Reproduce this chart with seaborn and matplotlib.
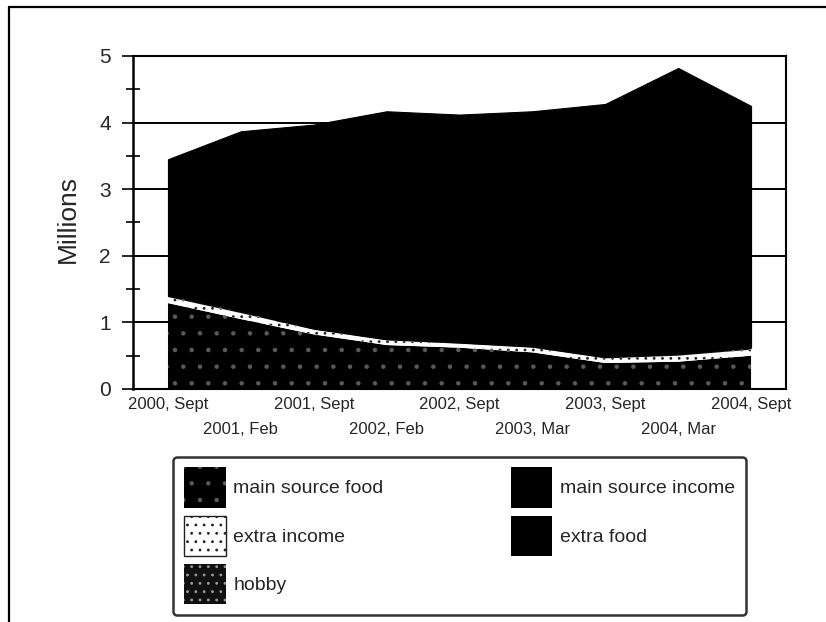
import numpy as np
import pandas as pd
import matplotlib
matplotlib.use('Agg')
import matplotlib.pyplot as plt
from matplotlib.patches import Patch
from matplotlib.lines import Line2D
import seaborn as sns


# Survey rounds (x axis) and the five stacked sources, in millions
periods = ['2000, Sept', '2001, Feb', '2001, Sept', '2002, Feb', '2002, Sept',
           '2003, Mar', '2003, Sept', '2004, Mar', '2004, Sept']
main_source_food = [1.29, 1.05, 0.82, 0.66, 0.62, 0.55, 0.39, 0.41, 0.50]
extra_income = [0.09, 0.09, 0.07, 0.07, 0.06, 0.07, 0.07, 0.09, 0.09]
hobby = [0.03, 0.03, 0.02, 0.02, 0.02, 0.02, 0.02, 0.03, 0.03]
main_source_income = [1.79, 2.42, 2.76, 3.12, 3.12, 3.23, 3.50, 3.94, 3.33]
extra_food = [0.25, 0.28, 0.30, 0.30, 0.30, 0.30, 0.30, 0.35, 0.30]

series = ['main source food', 'extra income', 'hobby',
          'main source income', 'extra food']
df = pd.DataFrame({'period': periods,
                   'main source food': main_source_food,
                   'extra income': extra_income,
                   'hobby': hobby,
                   'main source income': main_source_income,
                   'extra food': extra_food})

# Fill styles meant to look like the scanned print
styles = {'main source food': dict(facecolor='black', edgecolor='#5a5a5a', hatch='.'),
          'extra income': dict(facecolor='white', edgecolor='#222222', hatch='..'),
          'hobby': dict(facecolor='#101010', edgecolor='#9a9a9a', hatch='..'),
          'main source income': dict(facecolor='black', edgecolor='black', hatch=None),
          'extra food': dict(facecolor='black', edgecolor='black', hatch=None)}

sns.set_style('white')
plt.rcParams['font.family'] = ['Liberation Sans', 'DejaVu Sans']
plt.rcParams['hatch.linewidth'] = 0.8

fig = plt.figure(figsize=(8.26, 6.22), dpi=100)
ax = fig.add_axes([0.1610, 0.3746, 0.7906, 0.5354])

x = np.arange(len(periods))
polys = ax.stackplot(x, [df[s] for s in series], labels=series)
for poly, s in zip(polys, series):
    st = styles[s]
    poly.set_facecolor(st['facecolor'])
    poly.set_edgecolor(st['edgecolor'])
    if st['hatch']:
        poly.set_hatch(st['hatch'])
        poly.set_linewidth(0)
    else:
        poly.set_linewidth(0.8)

ax.set_xlim(-0.48, len(periods) - 1 + 0.48)
ax.set_ylim(0, 5)
ax.set_yticks(range(6))
ax.set_yticks(np.arange(0.5, 5, 1.0), minor=True)
ax.grid(axis='y', which='major', color='black', linewidth=1.4)
ax.set_axisbelow(True)

# staggered x labels: even rounds on first row, odd on second
ax.set_xticks(x[::2], [periods[i] for i in x[::2]])
ax.set_xticks(x[1::2], [periods[i] for i in x[1::2]], minor=True)
ax.tick_params(axis='x', which='both', direction='out', length=4,
               width=1.2, labelsize=12, color='black')
ax.tick_params(axis='x', which='major', pad=2)
ax.tick_params(axis='x', which='minor', pad=20)
ax.tick_params(axis='y', which='major', direction='out', length=8,
               width=1.4, labelsize=15, pad=8, left=True)
ax.tick_params(axis='y', which='minor', direction='inout', length=10,
               width=1.4, left=True)

for side in ['left', 'bottom', 'right', 'top']:
    ax.spines[side].set_visible(True)
    ax.spines[side].set_color('black')
    ax.spines[side].set_linewidth(1.5)
ax.spines['left'].set_linewidth(1.8)

ax.set_ylabel('Millions', fontsize=19)
ax.yaxis.set_label_coords(-0.081, 0.51)

handles = []
for s in series:
    st = styles[s]
    lw = 1.0 if s == 'extra income' else 0
    handles.append(Patch(facecolor=st['facecolor'], edgecolor=st['edgecolor'],
                         hatch=st['hatch'], linewidth=lw, label=s))
leg = fig.legend(handles=handles, ncol=2, loc='upper left',
                 bbox_to_anchor=(173 / 826, 1 - 463 / 622, (746 - 173) / 826, 0.01),
                 mode='expand', fontsize=14, frameon=True, fancybox=True,
                 handlelength=2.15, handleheight=2.8, handletextpad=0.4,
                 labelspacing=0.42, borderpad=0.55, borderaxespad=0)
leg.get_frame().set_edgecolor('black')
leg.get_frame().set_linewidth(1.8)

# border of the scanned page
fig.add_artist(Line2D([9 / 826, 9 / 826], [0, 1 - 7 / 622], color='black',
                      linewidth=1.6, transform=fig.transFigure))
fig.add_artist(Line2D([9 / 826, 1], [1 - 7 / 622, 1 - 7 / 622], color='black',
                      linewidth=1.6, transform=fig.transFigure))

plt.savefig('out.png', dpi=100)
